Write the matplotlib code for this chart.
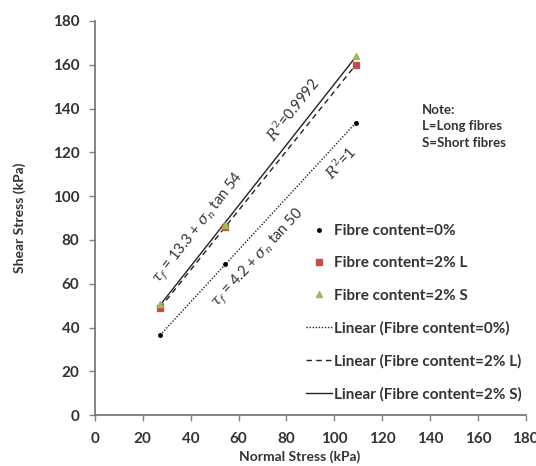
import numpy as np
import matplotlib.pyplot as plt

plt.rcParams['font.family'] = ['Lato', 'DejaVu Sans']
plt.rcParams['mathtext.fontset'] = 'dejavuserif'

# direct shear results
normal = [27.25, 54.5, 109.0]
shear_0 = [36.5, 69.0, 133.5]
shear_L = [49.0, 86.0, 160.0]
shear_S = [51.0, 87.0, 164.0]

note = 'Note:\nL=Long fibres\nS=Short fibres'

txtcol = '#333333'

fig = plt.figure(figsize=(5.36, 4.66), dpi=100)
ax = fig.add_axes([0.177, 0.109, 0.804, 0.846])

x = np.array(normal)
ax.plot(x, shear_0, 'o', color='black', ms=2.5, label='Fibre content=0%', zorder=3)
ax.plot(x, shear_L, 's', color='#c0504d', ms=4, label='Fibre content=2% L', zorder=3)
ax.plot(x, shear_S, '^', color='#9bbb59', ms=4, label='Fibre content=2% S', zorder=4)

fits = {}
for key, y, ls, lab in [('0', shear_0, (0, (1, 1.2)), 'Linear (Fibre content=0%)'),
                        ('L', shear_L, (0, (4, 3)), 'Linear (Fibre content=2% L)'),
                        ('S', shear_S, '-', 'Linear (Fibre content=2% S)')]:
    m, c = np.polyfit(x, y, 1)
    fits[key] = (m, c)
    ax.plot(x, m * x + c, linestyle=ls, color='#222222', lw=1.0, label=lab, zorder=2)

ax.set_xlim(0, 180)
ax.set_ylim(0, 180)
ax.set_xticks(np.arange(0, 181, 20))
ax.set_yticks(np.arange(0, 181, 20))
for s in ['top', 'right']:
    ax.spines[s].set_visible(False)
for s in ['left', 'bottom']:
    ax.spines[s].set_color('#707070')
    ax.spines[s].set_linewidth(1.2)
ax.tick_params(colors='#808080', labelcolor=txtcol, labelsize=11, length=4, width=1,
               direction='out')
ax.tick_params(axis='y', pad=7)
ax.tick_params(axis='x', pad=8)
for lbl in ax.get_xticklabels() + ax.get_yticklabels():
    lbl.set_fontweight('bold')

ax.set_xlabel('Normal Stress (kPa)', fontsize=10, fontweight='bold', color=txtcol)
ax.set_ylabel('Shear Stress (kPa)', fontsize=10, fontweight='bold', color=txtcol)
ax.xaxis.set_label_coords(0.475, -0.09)
ax.yaxis.set_label_coords(-0.16, 0.5)

# equations and R² along the trend lines
mS, cS = fits['S']
m0, c0 = fits['0']
angS = np.degrees(np.arctan(mS))
ang0 = np.degrees(np.arctan(m0))
kw = dict(ha='center', va='center', color=txtcol, fontsize=10.5,
          transform_rotates_text=True, rotation_mode='anchor')
ax.text(43.5, 85.5, r'$\tau_f$ = 13.3 + $\sigma_n$ tan 54', rotation=angS, **kw)
ax.text(82.7, 139.5, r'$R^2$=0.9992', rotation=angS, **kw)
ax.text(68.5, 71.5, r'$\tau_f$ = 4.2 + $\sigma_n$ tan 50', rotation=ang0, **kw)
ax.text(102.8, 114.9, r'$R^2$=1', rotation=ang0, **kw)

ax.text(0.758, 0.79, note, transform=ax.transAxes, fontsize=9.5, fontweight='bold',
        color=txtcol, va='top', ha='left', linespacing=1.45)

leg = ax.legend(loc='upper left', bbox_to_anchor=(0.49, 0.485), frameon=False,
                fontsize=11, handlelength=1.7, handletextpad=0.15,
                labelspacing=1.2, borderpad=0, borderaxespad=0)
for t in leg.get_texts():
    t.set_fontweight('bold')
    t.set_color(txtcol)

fig.savefig('out.png', dpi=100)
